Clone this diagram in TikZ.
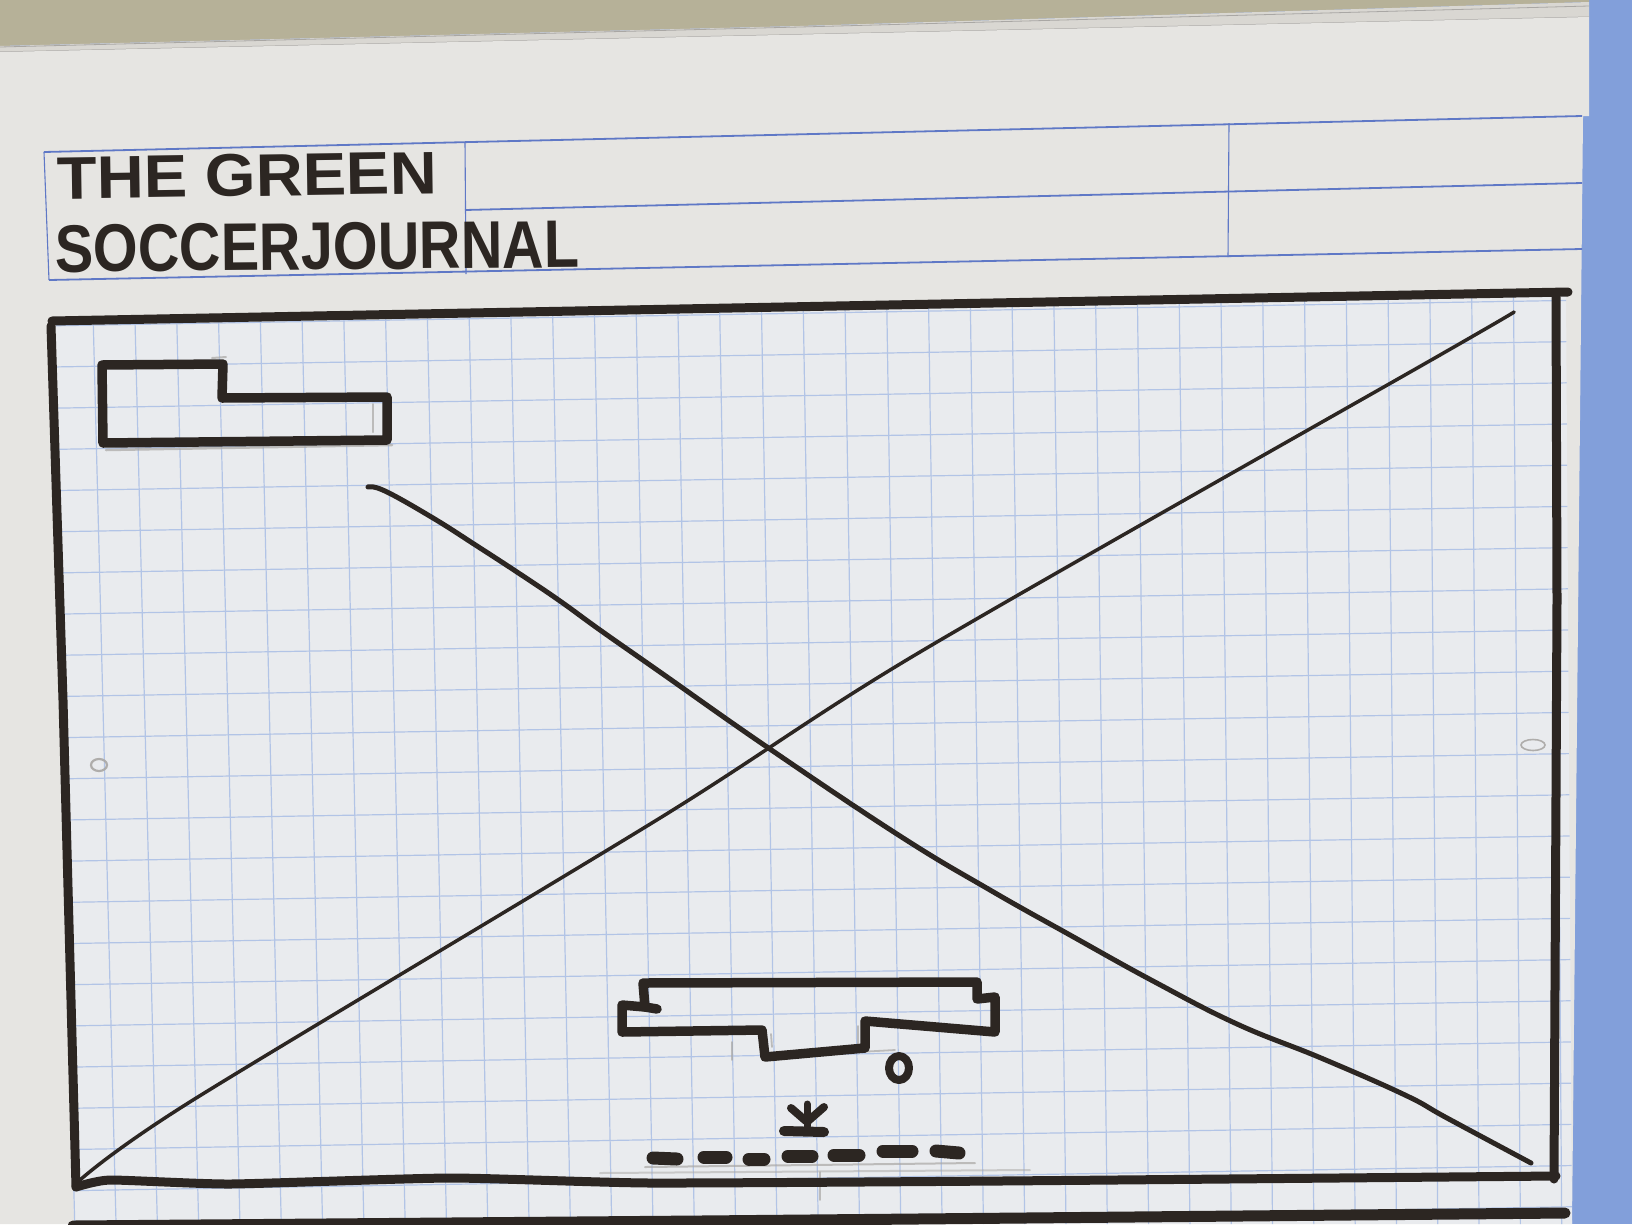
\documentclass[tikz,border=0pt]{standalone}
\usepackage{fontspec}
\newfontfamily\marker{Liberation Sans}
\definecolor{inkc}{HTML}{2C2622}
\definecolor{gridc}{HTML}{B2C4E6}
\definecolor{rulec}{HTML}{5F78C6}
\definecolor{paperc}{HTML}{E6E5E2}
\definecolor{gridpaper}{HTML}{E9EBEE}
\definecolor{olivec}{HTML}{B6B198}
\definecolor{stripc}{HTML}{D9D7D2}
\definecolor{deskc}{HTML}{829FDA}
\definecolor{pencilc}{HTML}{A9A7A4}
\begin{document}
\begin{tikzpicture}[x=1pt,y=-1pt,
  marker/.style={draw=inkc, line cap=round, line join=round},
  frameline/.style={marker, line width=9pt},
  boxline/.style={marker, line width=9.5pt},
  thinink/.style={marker, line width=3.5pt},
  midink/.style={marker, line width=5pt},
  dashmark/.style={marker, line width=13pt},
  gridline/.style={draw=gridc, line width=1.2pt},
  ruleh/.style={draw=rulec, line width=1.8pt},
  rulev/.style={draw=rulec, line width=1.1pt},
  pencil/.style={draw=pencilc, line width=2.5pt, line cap=round, opacity=0.7},
  title/.style={anchor=base west, inner sep=0pt, text=inkc}]
\useasboundingbox (0,0) rectangle (1632,1224);

% desk, wall and the stack of sheets
\fill[deskc] (0,0) rectangle (1632,1224);
\fill[olivec] (0,0) -- (1589,0) -- (1589,2) -- (800,26) -- (0,46) -- cycle;
\fill[stripc] (0,46) -- (800,26) -- (1589,2) -- (1589,17) -- (1100,28) -- (0,52) -- cycle;
\draw[pencilc, line width=1pt] (0,52) -- (1100,28) -- (1589,17);
\draw[pencilc, line width=0.8pt] (0,47) -- (800,27) -- (1589,6);
\fill[paperc] (0,52) -- (1100,28) -- (1589,17) -- (1589,116) -- (1583,116) -- (1572,1224) -- (0,1224) -- cycle;

% squared area inside the frame
\begin{scope}
  \clip (56,320) -- (1566,292) -- (1572,1224) -- (74,1224) -- cycle;
  \fill[gridpaper] (0,0) rectangle (1632,1224);
  \foreach \i in {-18,...,19}
    \draw[gridline] ({761+41.8*\i},280) -- ({777+41.3*\i},1230);
  \foreach \j in {-12,...,12}
    \draw[gridline] (40,{779.2+41.2*\j}) -- (1580,{753.4+41.2*\j});
\end{scope}

% title block rules
\coordinate (hTL) at (44,152);
\coordinate (hTR) at (1582,116);
\coordinate (hML) at (465,210);
\coordinate (hMR) at (1582,183);
\coordinate (hBL) at (49,280);
\coordinate (hBR) at (1582,249);
\draw[ruleh] (hTL) -- (hTR);
\draw[ruleh] (hML) -- (hMR);
\draw[ruleh] (hBL) -- (hBR);
\draw[rulev] (hTL) -- (hBL);
\draw[rulev] (465,142) -- (466,274);
\draw[rulev] (1229,123) -- (1228,257);

% title lettering
\node[title, rotate=0.8] (title1) at (57,199)
  {\resizebox{380pt}{42pt}{\marker\bfseries THE GREEN}};
\node[title, rotate=0.5] (title2) at (55,272)
  {\resizebox{524pt}{47pt}{\marker\bfseries SOCCERJOURNAL}};

% pencil guide marks
\draw[pencil] (106,450) -- (392,445);
\draw[pencil, line width=2pt] (373,404) -- (373,432);
\draw[pencil, line width=2pt] (212,358) -- (226,357);
\draw[pencil, line width=1.8pt] (732,1042) -- (732,1060);
\draw[pencil, line width=1.8pt] (771,1034) -- (772,1047);
\draw[pencil, line width=1.8pt] (858,1026) -- (858,1052) -- (895,1050);
\draw[pencil, line width=2pt] (645,1167) -- (975,1163);
\draw[pencil, line width=2pt, opacity=0.5] (600,1173) -- (1030,1170);
\draw[pencil, line width=1.5pt] (820,1172) -- (820,1200);

% the image placeholder frame
\draw[frameline] (52,321) -- (1568,292);
\draw[frameline] (1556,297) -- (1557,600) -- (1554,1179);
\draw[frameline] plot[smooth, tension=0.3] coordinates
  {(76,1187) (110,1180) (230,1184) (450,1178) (650,1183) (1000,1181) (1556,1176)};
\draw[frameline] (51,326) -- (63,700) -- (76,1187);

% crossed diagonals
\draw[thinink] plot[smooth, tension=0.5] coordinates
  {(80,1180) (193,1100) (660,818) (920,652) (1440,355) (1514,312)};
\draw[midink] plot[smooth, tension=0.7] coordinates
  {(368,487) (385,491) (433,518) (477,546) (520,574) (560,601) (600,630) (660,672)
   (767,747) (900,836) (990,890) (1070,935) (1153,981) (1237,1024) (1321,1058)
   (1405,1095) (1447,1118) (1531,1163)};

% logo block, top left
\draw[boxline] (102,365) -- (223,364) -- (222,398) -- (387,397) -- (387,440) -- (103,443) -- cycle;

% caption block, bottom centre
\draw[boxline] (643,983) -- (977,982) -- (977,999) -- (995,997) -- (995,1032)
  -- (865,1021) -- (865,1048) -- (765,1057) -- (762,1030) -- (622,1032)
  -- (622,1005) -- (645,1007) -- cycle;
\draw[boxline] (645,1007) -- (657,1009);

% small ring beside the caption
\draw[marker, line width=8pt] (899,1068) ellipse [x radius=10, y radius=12];

% star mark
\draw[marker, line width=10pt] (784,1131) -- (824,1132);
\draw[marker, line width=7pt] (807,1104) -- (807,1126);
\draw[marker, line width=8pt] (791,1108) -- (806,1121);
\draw[marker, line width=8pt] (824,1107) -- (808,1121);

% dashed strip
\draw[dashmark] (653,1158) -- (677,1159);
\draw[dashmark] (704,1157) -- (726,1157);
\draw[dashmark] (749,1159) -- (764,1159);
\draw[dashmark] (788,1156) -- (812,1156);
\draw[dashmark] (834,1155) -- (859,1155);
\draw[dashmark] (883,1151) -- (912,1151);
\draw[dashmark] (936,1151) -- (959,1153);

% side marks
\draw[pencil, line width=2.2pt, opacity=0.9] (99,765) ellipse [x radius=8, y radius=6];
\draw[pencil, line width=1.6pt, opacity=0.9] (1533,745) ellipse [x radius=12, y radius=5.5];

% top of the next frame on the sheet
\draw[frameline, line width=11pt] (73,1226) -- (700,1221) -- (1565,1213);
\end{tikzpicture}
\end{document}
